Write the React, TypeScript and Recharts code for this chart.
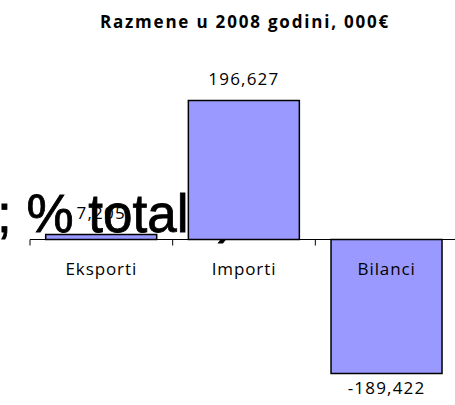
import React from 'react';
import { BarChart, Bar, XAxis, YAxis, ReferenceLine, LabelList } from 'recharts';

const categories = ['Eksporti', 'Importi', 'Bilanci'];
const values = [7205, 196627, -189422];
const valueLabels = ['7,205', '196,627', '-189,422'];
const title = 'Razmene u 2008 godini, 000€';
const overlayText = '; % totala)';
const yDomain = [-200000, 200000];

const data = categories.map((c, i) => ({ name: c, value: values[i], label: valueLabels[i] }));

const W = 455;
const H = 405;
const CHART_W = 460;
const X_AXIS_H = 2;
const MARGIN = { top: 98, right: 2, bottom: 22, left: 30 };
const PLOT_H = H - MARGIN.top - MARGIN.bottom - X_AXIS_H;
const ZERO_Y = MARGIN.top + (PLOT_H * yDomain[1]) / (yDomain[1] - yDomain[0]);
const BAND = (CHART_W - MARGIN.left - MARGIN.right) / categories.length;
const FONT = "'Open Sans', 'Noto Sans', sans-serif";

const renderCategoryTick = (props: any) => {
  const { x, payload } = props;
  return (
    <g>
      <line x1={x - BAND / 2} x2={x - BAND / 2} y1={ZERO_Y} y2={ZERO_Y + 6} stroke="#000" strokeWidth={1} />
      <text x={x} y={ZERO_Y + 35} textAnchor="middle" fontFamily={FONT} fontSize={17} letterSpacing={0.9} fill="#000">
        {payload.value}
      </text>
    </g>
  );
};

const ValueLabel = (props: any) => {
  const { x, y, width, height, value, index } = props;
  const top = Math.min(y, y + height);
  const bottom = Math.max(y, y + height);
  const v = values[index];
  const ty = v >= 0 ? top - 15 : bottom + 20;
  return (
    <text x={x + width / 2} y={ty} textAnchor="middle" fontFamily={FONT} fontSize={17} letterSpacing={1.2} fill="#000">
      {value}
    </text>
  );
};

export default function App() {
  return (
    <div style={{ position: 'absolute', left: 0, top: 0, width: W, height: H, overflow: 'hidden', background: '#fff' }}>
      <svg width={W} height={H} style={{ position: 'absolute', left: 0, top: 0, zIndex: 0 }}>
        <text x={245} y={28} textAnchor="middle" fontFamily={FONT} fontWeight="bold" fontSize={17} letterSpacing={1.8} fill="#000">
          {title}
        </text>
        <text x={-3} y={232} fontFamily="'Liberation Sans', Arial, sans-serif" fontSize={53} stroke="#000" strokeWidth={0.8} fill="#000">
          {overlayText}
        </text>
      </svg>
      <div style={{ position: 'absolute', left: 0, top: 0, zIndex: 1 }}>
        <BarChart width={CHART_W} height={H} data={data} margin={MARGIN} barCategoryGap="11%">
          <YAxis hide domain={yDomain} type="number" />
          <XAxis
            dataKey="name"
            height={X_AXIS_H}
            axisLine={false}
            tickLine={false}
            interval={0}
            tick={renderCategoryTick}
          />
          <ReferenceLine y={0} stroke="#000" strokeWidth={1} />
          <Bar dataKey="value" fill="#9999FF" stroke="#000" strokeWidth={1.5} isAnimationActive={false}>
            <LabelList dataKey="label" content={<ValueLabel />} />
          </Bar>
        </BarChart>
      </div>
    </div>
  );
}
